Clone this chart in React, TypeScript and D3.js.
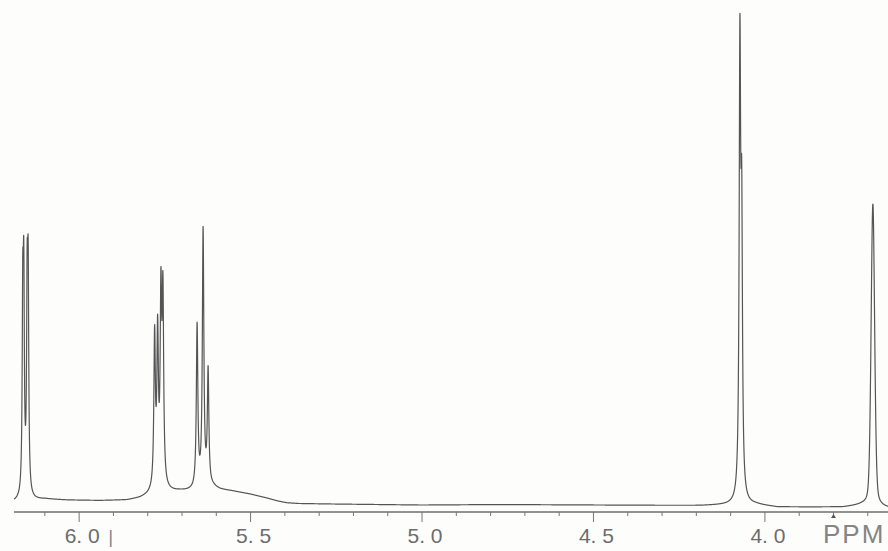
import React, { useMemo } from "react";
import * as d3 from "d3";

// chemical shift window shown on the chart (ppm, high field on the right)
const PPM_LEFT = 6.19;
const PPM_RIGHT = 3.641;

// resonance lines (intensity: tallest line = 100)
const peakPpm = [6.1644, 6.1615, 6.1516, 6.1487, 5.7799, 5.7711, 5.7615, 5.7557, 5.656, 5.6385, 5.6239, 4.0729, 4.0677, 3.6851];
const peakHeight = [36.1, 39.1, 37.2, 39.6, 30.8, 30.4, 36.9, 37.5, 32.8, 51.9, 23.1, 89.0, 52.3, 61.3];
const peakHalfWidth = [0.002, 0.002, 0.002, 0.002, 0.0026, 0.0026, 0.0026, 0.0026, 0.0026, 0.0026, 0.0026, 0.0026, 0.0026, 0.0061];
const peakLorentz = [1, 1, 1, 1, 1, 1, 1, 1, 1, 1, 1, 1, 1, 0.3];

// drifting baseline of the recorder trace
const baselinePpm = [6.19, 6.128, 6.099, 6.035, 5.939, 5.86, 5.822, 5.793, 5.749, 5.706, 5.668, 5.609, 5.589, 5.551, 5.501, 5.452, 5.42, 5.394, 5.36, 5.259, 5.0, 4.773, 4.481, 4.19, 4.131, 4.026, 3.965, 3.77, 3.717, 3.641];
const baselineValue = [1.2, 1.6, 1.8, 1.6, 1.5, 1.6, 2.0, 2.6, 3.2, 3.4, 3.4, 4.1, 3.7, 3.4, 2.8, 2.0, 1.4, 1.05, 0.9, 0.8, 0.6, 0.7, 0.6, 0.5, 0.6, 0.7, 0.2, 0.2, 0.6, 0.0];

// axis
const majorTicks = [6.0, 5.5, 5.0, 4.5, 4.0];
const tickLabels = ["6. 0", "5. 5", "5. 0", "4. 5", "4. 0"];
const unitLabel = "PPM";
const markerPpm = 3.8;

const W = 888;
const H = 551;

export default function App() {
  const x = d3.scaleLinear().domain([PPM_LEFT, PPM_RIGHT]).range([14, 888]);
  const y = d3.scaleLinear().domain([0, 100]).range([508, 15]);
  const axisY = 512;

  const trace = useMemo(() => {
    const base = d3.scaleLinear().domain(baselinePpm).range(baselineValue).clamp(true);
    const step = 0.00025;
    const n = Math.ceil((PPM_LEFT - PPM_RIGHT) / step);
    const pts: [number, number][] = [];
    for (let i = 0; i <= n; i++) {
      const p = PPM_LEFT - i * step;
      let v = base(p);
      peakPpm.forEach((c, k) => {
        const d = p - c;
        const w = peakHalfWidth[k];
        const eta = peakLorentz[k];
        const lor = (w * w) / (d * d + w * w);
        const gau = Math.exp((-Math.LN2 * d * d) / (w * w));
        v += peakHeight[k] * (eta * lor + (1 - eta) * gau);
      });
      pts.push([p, v]);
    }
    return pts;
  }, []);

  const line = d3
    .line<[number, number]>()
    .x((d) => x(d[0]))
    .y((d) => y(d[1]));

  const minorTicks = x.ticks(25).filter((t) => !majorTicks.some((m) => Math.abs(m - t) < 1e-6));

  return (
    <div style={{ position: "absolute", left: 0, top: 0 }}>
      <svg width={W} height={H} style={{ display: "block", background: "#fdfdfc" }}>
        {/* axis */}
        <line x1={x(PPM_LEFT)} x2={W} y1={axisY} y2={axisY} stroke="#6e6e6e" strokeWidth={1.3} />
        {minorTicks.map((t) => (
          <line key={"m" + t} x1={x(t)} x2={x(t)} y1={axisY} y2={axisY + 4} stroke="#777" strokeWidth={1} />
        ))}
        {majorTicks.map((t, i) => (
          <g key={"M" + t}>
            <line x1={x(t)} x2={x(t)} y1={axisY} y2={axisY + 10} stroke="#777" strokeWidth={1} />
            <text
              x={x(t) + 3}
              y={543}
              textAnchor="middle"
              fontFamily="'Liberation Sans', Arial, sans-serif"
              fontSize={21}
              fill="#6c6c6c"
            >
              {tickLabels[i]}
            </text>
          </g>
        ))}
        <text x={x(5.915)} y={543} fontFamily="'Liberation Sans', Arial, sans-serif" fontSize={19} fill="#8a8a8a">
          |
        </text>
        <path
          d={`M${x(markerPpm) - 2.5},${axisY + 6} L${x(markerPpm)},${axisY + 2} L${x(markerPpm) + 2.5},${axisY + 6} Z`}
          fill="#555"
        />
        <text
          x={823}
          y={543}
          fontFamily="'Liberation Sans', Arial, sans-serif"
          fontSize={26}
          letterSpacing={2}
          fill="#858585"
        >
          {unitLabel}
        </text>

        {/* spectrum trace */}
        <path d={line(trace) || ""} fill="none" stroke="#555" strokeWidth={1.2} strokeLinejoin="round" />
      </svg>
    </div>
  );
}
